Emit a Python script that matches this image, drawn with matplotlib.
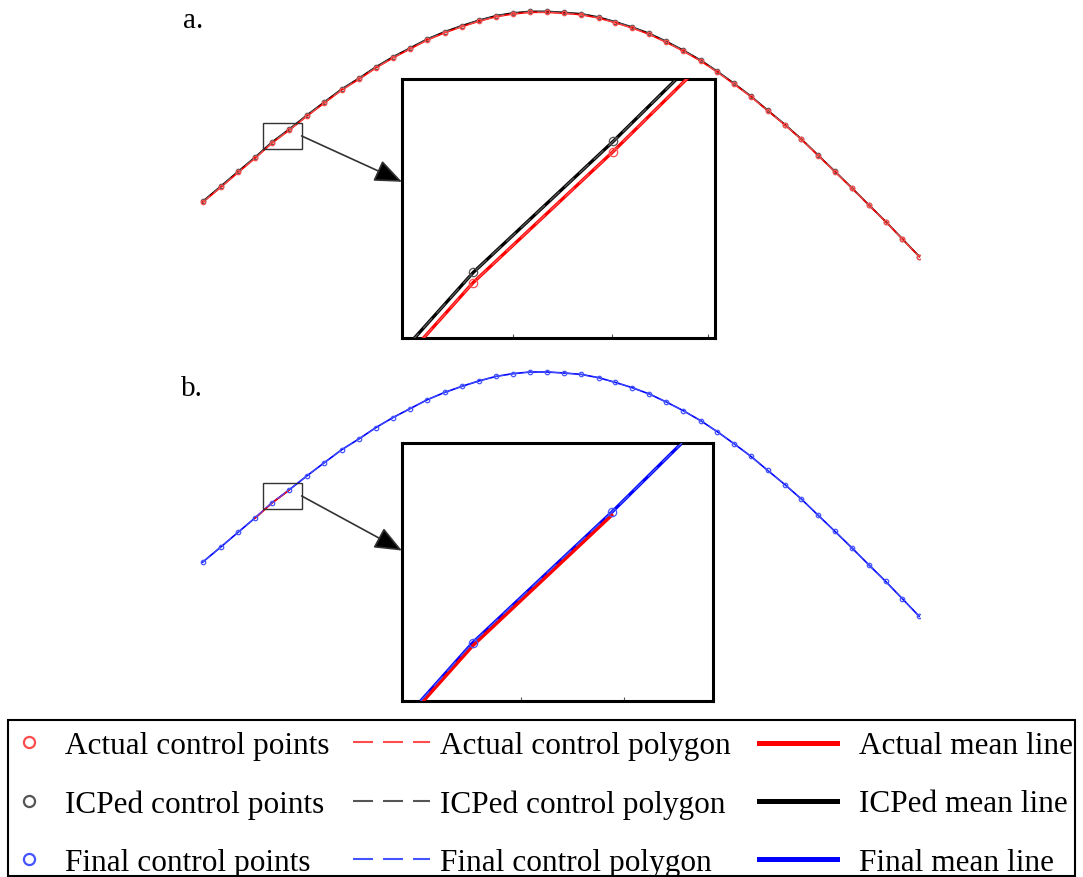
import numpy as np
import matplotlib
matplotlib.use("Agg")
import matplotlib.pyplot as plt
from matplotlib.lines import Line2D
from matplotlib.patches import Rectangle

# ---- data: control points of the profile (x along the part, y = height) ----
actual_x = [2.7, 20.7, 38.3, 55.3, 71.7, 89.0, 106.7, 124.3, 141.7, 159.3, 175.7,
            192.7, 210.0, 227.3, 244.7, 261.7, 278.7, 296.0, 312.7, 330.0, 347.3,
            364.0, 381.3, 398.7, 415.3, 432.3, 449.3, 466.3, 483.3, 500.7, 517.3,
            534.0, 551.0, 567.7, 585.0, 601.3, 618.3, 635.0, 652.0, 668.7, 685.7,
            702.3, 719.3]
actual_y = [56.7, 71.7, 86.7, 101.0, 115.7, 128.7, 142.7, 156.0, 169.0, 180.0, 191.0,
            201.0, 210.0, 219.0, 226.3, 232.3, 237.7, 242.3, 245.0, 246.7, 246.7,
            245.7, 244.3, 241.0, 236.3, 231.0, 224.7, 216.7, 208.0, 198.0, 187.0,
            175.0, 162.3, 148.3, 134.0, 119.7, 103.3, 87.3, 70.7, 54.0, 37.3,
            20.0, 2.3]

icp_x = actual_x
icp_y = [57.6, 72.7, 87.7, 102.0, 116.7, 129.7, 143.7, 157.0, 170.0, 181.0, 192.0,
         202.0, 211.0, 220.0, 227.3, 233.3, 238.7, 243.3, 246.0, 247.6, 247.6,
         246.6, 245.2, 241.9, 237.2, 231.9, 225.6, 217.6, 208.8, 198.8, 187.7,
         175.6, 162.8, 148.7, 134.4, 120.0, 103.6, 87.6, 70.9, 54.2, 37.5,
         20.2, 2.5]

final_x = actual_x
final_y = [56.9, 71.9, 86.9, 101.3, 116.0, 129.0, 143.0, 156.3, 169.3, 180.3, 191.3,
           201.3, 210.3, 219.3, 226.6, 232.6, 238.0, 242.6, 245.3, 247.0, 247.0,
           246.0, 244.6, 241.3, 236.6, 231.3, 225.0, 217.0, 208.3, 198.3, 187.3,
           175.3, 162.6, 148.6, 134.3, 120.0, 103.6, 87.6, 71.0, 54.3, 37.6,
           20.3, 2.6]

zoom_a = (62.9, 110.2, 38.7, 25.7)    # x0, y0, w, h of the zoomed window
zoom_b = (62.9, 110.2, 38.7, 25.7)
ticks_a = [76.6, 88.9, 100.7]
ticks_b = [77.7, 90.5]

labels = ["Actual control points", "ICPed control points", "Final control points",
          "Actual control polygon", "ICPed control polygon", "Final control polygon",
          "Actual mean line", "ICPed mean line", "Final mean line"]

# ---- styles ----
RED, RED_PT = "#ff0000", "#ff4d4d"
GREY = "#555555"
BLUE, BLUE_PT = "#0000ff", "#4455ff"
DASH = (0, (9.6, 4.8))
SERIF = "Liberation Serif"

W, H = 1083, 878
fig = plt.figure(figsize=(W / 100, H / 100), dpi=100)


def px_axes(x0, y0, x1, y1):
    return fig.add_axes([x0 / W, 1 - y1 / H, (x1 - x0) / W, (y1 - y0) / H])


def draw_a(ax, big):
    lw_m = 2.4 if big else 1.2
    lw_d = 1.0 if big else 0.7
    ms = 6 if big else 3.2
    ax.plot(icp_x, icp_y, color="black", lw=lw_m, zorder=2)
    ax.plot(actual_x, actual_y, color=RED, lw=lw_m, zorder=3)
    ax.plot(icp_x, icp_y, color=GREY, lw=lw_d, ls=DASH, zorder=4)
    ax.plot(actual_x, actual_y, color=RED_PT, lw=lw_d, ls=DASH, zorder=4)
    ax.plot(icp_x, icp_y, "o", ms=ms, mfc="none", mec=GREY, mew=0.9, zorder=5)
    ax.plot(actual_x, actual_y, "o", ms=ms, mfc="none", mec=RED_PT, mew=0.9, zorder=5)


def draw_b(ax, big):
    lw_m = 2.4 if big else 1.2
    lw_d = 1.0 if big else 0.7
    ms = 6 if big else 3.2
    ax.plot(final_x, final_y, color=BLUE, lw=lw_m, zorder=2)
    ax.plot(actual_x[3:6], actual_y[3:6], color=RED, lw=lw_m, zorder=3)
    ax.plot(final_x, final_y, color=BLUE_PT, lw=lw_d, ls=DASH, zorder=4)
    ax.plot(final_x, final_y, "o", ms=ms, mfc="none", mec=BLUE_PT, mew=0.9, zorder=5)


def setup_inset(ax, win, ticks):
    x0, y0, w, h = win
    ax.set_xlim(x0, x0 + w)
    ax.set_ylim(y0, y0 + h)
    ax.set_xticks(ticks)
    ax.set_yticks([])
    ax.tick_params(axis="x", direction="in", length=3, width=0.8, color=GREY,
                   labelbottom=False)
    for s in ax.spines.values():
        s.set_linewidth(2.2)


# ---- panel a ----
ax_a = px_axes(200, 0, 920, 265)
ax_a.set_xlim(0, 720)
ax_a.set_ylim(-5, 260)
ax_a.axis("off")
draw_a(ax_a, False)
ax_a.add_patch(Rectangle(zoom_a[:2], zoom_a[2], zoom_a[3], fill=False,
                         ec="#333333", lw=1.0, zorder=6))

ins_a = px_axes(402, 80, 715, 339)
draw_a(ins_a, True)
setup_inset(ins_a, zoom_a, ticks_a)

# ---- panel b ----
ax_b = px_axes(200, 360, 920, 625)
ax_b.set_xlim(0, 720)
ax_b.set_ylim(-5, 260)
ax_b.axis("off")
draw_b(ax_b, False)
ax_b.add_patch(Rectangle(zoom_b[:2], zoom_b[2], zoom_b[3], fill=False,
                         ec="#333333", lw=1.0, zorder=6))

ins_b = px_axes(402, 444, 713, 702)
draw_b(ins_b, True)
setup_inset(ins_b, zoom_b, ticks_b)

# arrows from the zoom windows to the insets
for ax, ins, win, yfrac in [(ax_a, ins_a, zoom_a, 0.603), (ax_b, ins_b, zoom_b, 0.583)]:
    ins.annotate("", xy=(0, yfrac), xycoords="axes fraction",
                 xytext=(win[0] + win[2], win[1] + win[3] / 2),
                 textcoords=ax.transData, annotation_clip=False,
                 arrowprops=dict(arrowstyle="-|>,head_length=0.85,head_width=0.35",
                                 mutation_scale=20, fc="black", ec="#333333",
                                 lw=1.2, shrinkA=0, shrinkB=0))

fig.text(183 / W, 1 - 28 / H, "a.", family=SERIF, fontsize=21, va="baseline")
fig.text(181 / W, 1 - 396 / H, "b.", family=SERIF, fontsize=21, va="baseline")

# ---- legend ----
h_pts = [Line2D([], [], ls="none", marker="o", ms=8, mfc="none", mew=1.6, mec=c)
         for c in (RED_PT, GREY, BLUE_PT)]
h_poly = [Line2D([], [], color=c, lw=1.5, ls=DASH) for c in (RED_PT, GREY, BLUE_PT)]
h_mean = [Line2D([], [], color=c, lw=3.6) for c in (RED, "black", BLUE)]

ycen = 1 - 805 / H
common = dict(loc="center left", frameon=False, borderpad=0, borderaxespad=0,
              labelspacing=0.93, prop=dict(family=SERIF, size=22.5))
fig.legend(h_pts, labels[0:3], bbox_to_anchor=(10 / W, ycen),
           handlelength=1.22, handletextpad=0.54, **common)
fig.legend(h_poly, labels[3:6], bbox_to_anchor=(353 / W, ycen),
           handlelength=2.46, handletextpad=0.32, **common)
fig.legend(h_mean, labels[6:9], bbox_to_anchor=(759 / W, ycen),
           handlelength=2.5, handletextpad=0.70, **common)

fig.patches.append(Rectangle((8 / W, 1 / H), 1067 / W, 156 / H, fill=False,
                             ec="black", lw=1.5, transform=fig.transFigure,
                             figure=fig))

fig.savefig("out.png", dpi=100)
